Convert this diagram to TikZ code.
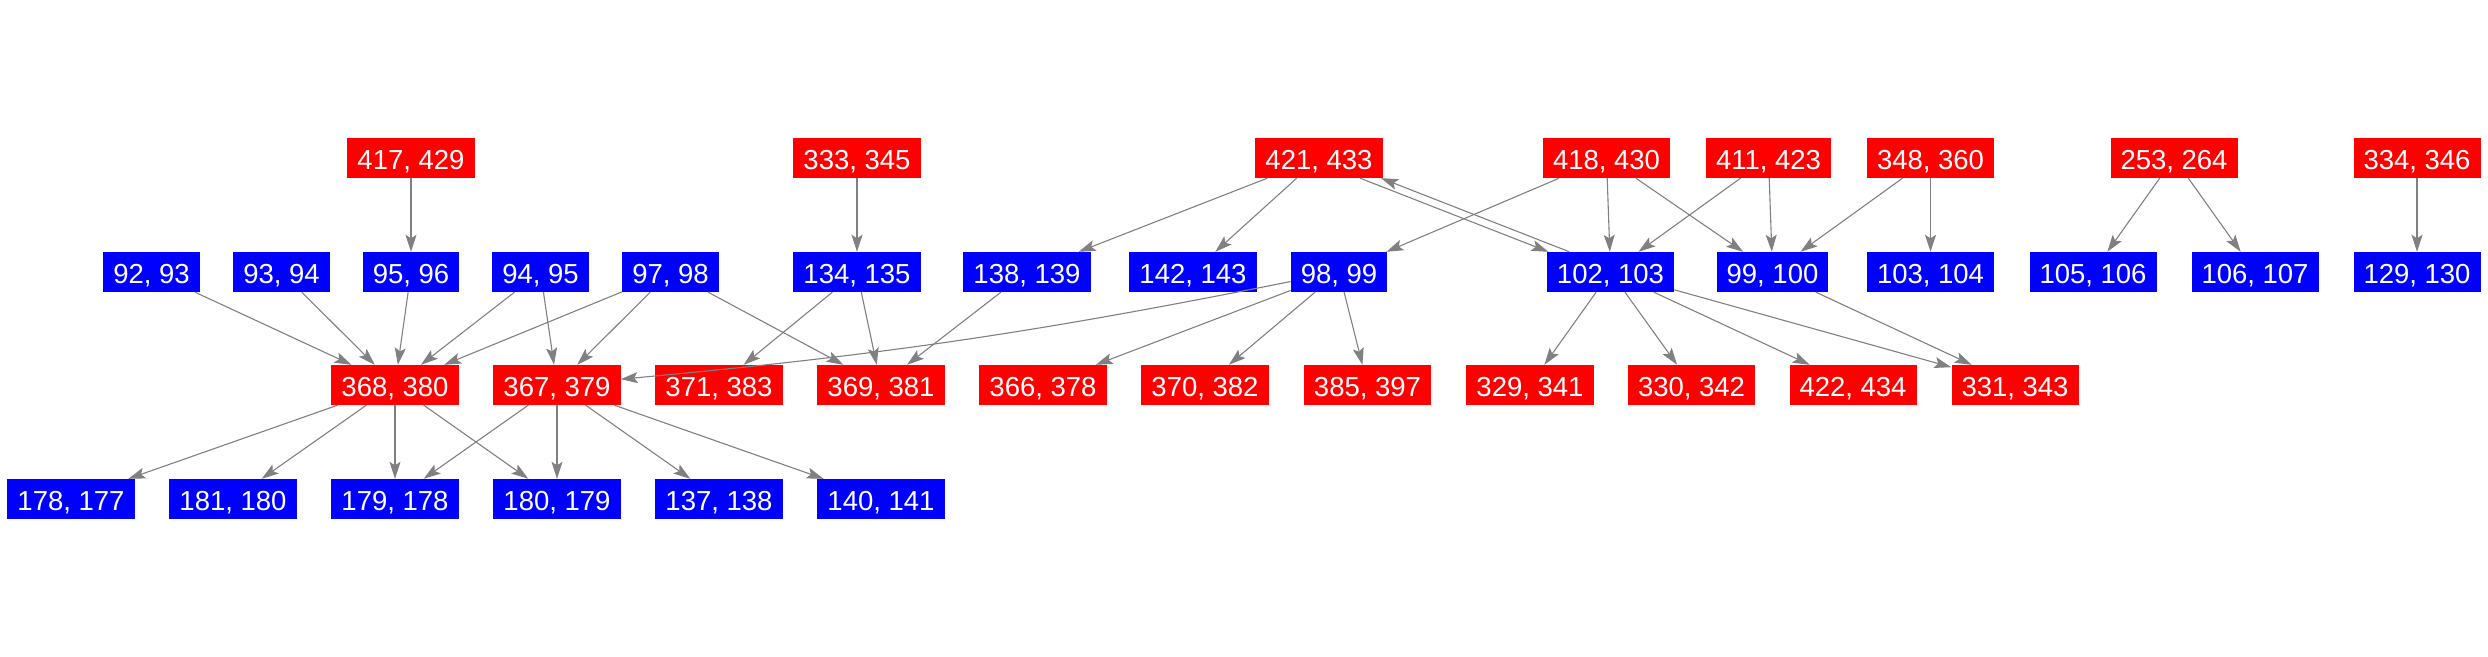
\documentclass[tikz,border=0pt]{standalone}
\usepackage{fontspec}
\setmainfont{Liberation Sans}
\usetikzlibrary{arrows.meta}

\definecolor{boxred}{RGB}{255,0,0}
\definecolor{boxblue}{RGB}{0,0,255}
\definecolor{linkgray}{RGB}{128,128,128}

\tikzset{
  box/.style={rectangle, text=white, inner xsep=10pt, inner ysep=0pt,
    minimum height=40pt, text height=22pt, text depth=0pt,
    font=\fontsize{27.5}{30}\selectfont},
  redbox/.style={box, fill=boxred},
  bluebox/.style={box, fill=boxblue},
  link/.style={draw=linkgray, line width=1.1pt,
    -{Stealth[length=17pt, width=11pt, inset=3.5pt, fill=linkgray]}}
}

\begin{document}
\begin{tikzpicture}[x=1pt, y=-1pt]
\useasboundingbox (0,0) rectangle (2488,656);


\node[redbox] (r417) at (411,158) {417, 429};
\node[redbox] (r333) at (857,158) {333, 345};
\node[redbox] (r421) at (1319,158) {421, 433};
\node[redbox] (r418) at (1606.5,158) {418, 430};
\node[redbox] (r411) at (1768.5,158) {411, 423};
\node[redbox] (r348) at (1930.5,158) {348, 360};
\node[redbox] (r253) at (2174,158) {253, 264};
\node[redbox] (r334) at (2417,158) {334, 346};

\node[bluebox] (b92) at (151.5,272) {92, 93};
\node[bluebox] (b93) at (281.5,272) {93, 94};
\node[bluebox] (b95) at (411,272) {95, 96};
\node[bluebox] (b94) at (540.5,272) {94, 95};
\node[bluebox] (b97) at (670.5,272) {97, 98};
\node[bluebox] (b134) at (857,272) {134, 135};
\node[bluebox] (b138) at (1027,272) {138, 139};
\node[bluebox] (b142) at (1193,272) {142, 143};
\node[bluebox] (b98) at (1339,272) {98, 99};
\node[bluebox] (b102) at (1610.5,272) {102, 103};
\node[bluebox] (b99) at (1772.5,272) {99, 100};
\node[bluebox] (b103) at (1930.5,272) {103, 104};
\node[bluebox] (b105) at (2093,272) {105, 106};
\node[bluebox] (b106) at (2255,272) {106, 107};
\node[bluebox] (b129) at (2417,272) {129, 130};

\node[redbox] (r368) at (395,385) {368, 380};
\node[redbox] (r367) at (557,385) {367, 379};
\node[redbox] (r371) at (719,385) {371, 383};
\node[redbox] (r369) at (881,385) {369, 381};
\node[redbox] (r366) at (1043,385) {366, 378};
\node[redbox] (r370) at (1205,385) {370, 382};
\node[redbox] (r385) at (1367.5,385) {385, 397};
\node[redbox] (r329) at (1530,385) {329, 341};
\node[redbox] (r330) at (1691.5,385) {330, 342};
\node[redbox] (r422) at (1853,385) {422, 434};
\node[redbox] (r331) at (2015,385) {331, 343};

\node[bluebox] (b178) at (71,499) {178, 177};
\node[bluebox] (b181) at (233,499) {181, 180};
\node[bluebox] (b179) at (395,499) {179, 178};
\node[bluebox] (b180) at (557,499) {180, 179};
\node[bluebox] (b137) at (719,499) {137, 138};
\node[bluebox] (b140) at (881,499) {140, 141};

\draw[link] (r417) -- (b95);
\draw[link] (r333) -- (b134);
\draw[link] (r421) -- (b138);
\draw[link] (r421) -- (b142);
\draw[link, transform canvas={xshift=-10.5pt}] (r421) -- (b102);
\draw[link, transform canvas={xshift=10.5pt}] (b102) -- (r421);
\draw[link] (r418) -- (b98);
\draw[link] (r418) -- (b102);
\draw[link] (r418) -- (b99);
\draw[link] (r411) -- (b102);
\draw[link] (r411) -- (b99);
\draw[link] (r348) -- (b99);
\draw[link] (r348) -- (b103);
\draw[link] (r253) -- (b105);
\draw[link] (r253) -- (b106);
\draw[link] (r334) -- (b129);

\draw[link] (b92) -- (r368);
\draw[link] (b93) -- (r368);
\draw[link] (b95) -- (r368);
\draw[link] (b94) -- (r368);
\draw[link] (b94) -- (r367);
\draw[link] (b97) -- (r368);
\draw[link] (b97) -- (r367);
\draw[link] (b97) -- (r369);
\draw[link] (b134) -- (r371);
\draw[link] (b134) -- (r369);
\draw[link] (b138) -- (r369);
\draw[link] (b98) to[bend left=3] (r367);
\draw[link] (b98) -- (r366);
\draw[link] (b98) -- (r370);
\draw[link] (b98) -- (r385);
\draw[link] (b102) -- (r329);
\draw[link] (b102) -- (r330);
\draw[link] (b102) -- (r422);
\draw[link] (b102) -- (r331);
\draw[link] (b99) -- (r331);

\draw[link] (r368) -- (b178);
\draw[link] (r368) -- (b181);
\draw[link] (r368) -- (b179);
\draw[link] (r368) -- (b180);
\draw[link] (r367) -- (b179);
\draw[link] (r367) -- (b180);
\draw[link] (r367) -- (b137);
\draw[link] (r367) -- (b140);
\end{tikzpicture}
\end{document}
